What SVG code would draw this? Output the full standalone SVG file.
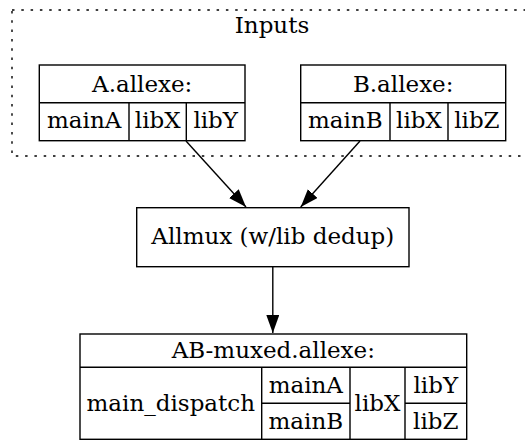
<svg xmlns="http://www.w3.org/2000/svg" width="525" height="442" viewBox="0 0 525 442">
<style>
text{font-family:"DejaVu Serif","Liberation Serif",serif;font-size:23px;fill:#000;text-anchor:middle}
.b{fill:#fff;stroke:#000;stroke-width:1.4}
.l{stroke:#000;stroke-width:1.4;fill:none}
.c{fill:none;stroke:#000;stroke-width:1.4;stroke-dasharray:2.5,6.8}
</style>
<defs>
<marker id="ah" markerUnits="userSpaceOnUse" markerWidth="20" markerHeight="16" refX="18" refY="6.5" orient="auto">
<path d="M0,0 L18,6.5 L0,13 z" fill="#000"/>
</marker>
</defs>
<g id="cluster_inputs">
<rect class="c" x="12" y="10" width="530" height="146"/>
<text x="272" y="33">Inputs</text>
</g>
<g id="A">
<rect class="b" x="39.3" y="65" width="205.7" height="75.7"/>
<path class="l" d="M39.3,102.7H245M129,102.7V140.7M186.3,102.7V140.7"/>
<text x="142.2" y="92">A.allexe:</text>
<text x="84.2" y="128">mainA</text>
<text x="157.7" y="128">libX</text>
<text x="215.7" y="128">libY</text>
</g>
<g id="B">
<rect class="b" x="300.7" y="65" width="205" height="75.7"/>
<path class="l" d="M300.7,102.7H505.7M390,102.7V140.7M448,102.7V140.7"/>
<text x="403.2" y="92">B.allexe:</text>
<text x="345.3" y="128">mainB</text>
<text x="419" y="128">libX</text>
<text x="476.9" y="128">libZ</text>
</g>
<g id="allmux">
<rect class="b" x="136.7" y="207.7" width="272.3" height="59"/>
<text x="272.8" y="244">Allmux (w/lib dedup)</text>
</g>
<g id="AB">
<rect class="b" x="80" y="334" width="386.7" height="105.3"/>
<path class="l" d="M80,367.3H466.7M261.7,367.3V439.3M350,367.3V439.3M405,367.3V439.3M261.7,403.3H350M405,403.3H466.7"/>
<text x="273.3" y="358">AB-muxed.allexe:</text>
<text x="170.8" y="411">main_dispatch</text>
<text x="305.8" y="393">mainA</text>
<text x="305.8" y="429">mainB</text>
<text x="377.5" y="411">libX</text>
<text x="435.8" y="393">libY</text>
<text x="435.8" y="429">libZ</text>
</g>
<g id="edges">
<line class="l" x1="186" y1="141" x2="246" y2="207" marker-end="url(#ah)"/>
<line class="l" x1="360" y1="141" x2="300.7" y2="207" marker-end="url(#ah)"/>
<line class="l" x1="272.8" y1="266.7" x2="272.8" y2="333" marker-end="url(#ah)"/>
</g>
</svg>
